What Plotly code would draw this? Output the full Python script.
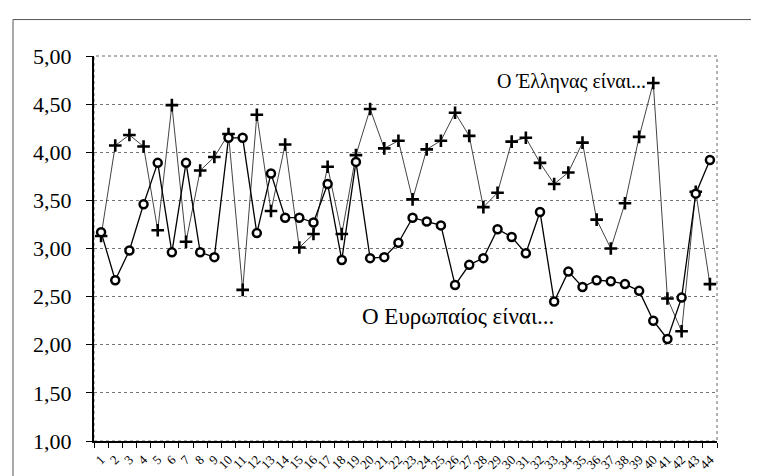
import plotly.graph_objects as go

categories = [str(i) for i in range(1, 45)]
greek = [3.13, 4.07, 4.18, 4.06, 3.19, 4.49, 3.07, 3.81, 3.95, 4.19,
         2.57, 4.39, 3.39, 4.08, 3.01, 3.15, 3.85, 3.15, 3.97, 4.45,
         4.04, 4.12, 3.51, 4.03, 4.12, 4.41, 4.17, 3.43, 3.58, 4.11,
         4.15, 3.89, 3.67, 3.79, 4.10, 3.30, 3.00, 3.47, 4.16, 4.72,
         2.48, 2.14, 3.59, 2.63]
europe = [3.17, 2.67, 2.98, 3.46, 3.89, 2.96, 3.89, 2.96, 2.91, 4.15,
          4.15, 3.16, 3.78, 3.32, 3.32, 3.27, 3.67, 2.88, 3.90, 2.90,
          2.91, 3.06, 3.32, 3.28, 3.24, 2.62, 2.83, 2.90, 3.20, 3.12,
          2.95, 3.38, 2.45, 2.76, 2.60, 2.67, 2.66, 2.63, 2.56, 2.25,
          2.06, 2.49, 3.57, 3.92]
y_ticks = [1.0, 1.5, 2.0, 2.5, 3.0, 3.5, 4.0, 4.5, 5.0]
label_greek = "Ο Έλληνας είναι..."
label_europe = "Ο Ευρωπαίος είναι..."

SERIF = "Liberation Serif, Times New Roman, DejaVu Serif, serif"

W, H = 759, 476
ML, MR, MT, MB = 86, 50, 48, 37
PW, PH = W - ML - MR, H - MT - MB

def px_x(p):
    return (p - ML) / PW

def px_y(p):
    return (H - MB - p) / PH

fig = go.Figure()
fig.add_trace(go.Scatter(
    x=categories, y=greek, mode="lines+markers",
    line=dict(color="#444444", width=1),
    marker=dict(symbol="cross-thin", size=9, line=dict(color="black", width=2.6)),
    showlegend=False, cliponaxis=False))
fig.add_trace(go.Scatter(
    x=categories, y=europe, mode="lines+markers",
    line=dict(color="black", width=1.3),
    marker=dict(symbol="circle", size=8, color="white", line=dict(color="black", width=2.5)),
    showlegend=False, cliponaxis=False))

fig.add_annotation(text=label_greek, xref="paper", yref="y", x=px_x(640), y=4.74,
                   xanchor="right", yanchor="middle", showarrow=False,
                   font=dict(family=SERIF, size=20, color="black"))
fig.add_annotation(text=label_europe, xref="paper", yref="y", x=px_x(352), y=2.29,
                   xanchor="left", yanchor="middle", showarrow=False,
                   font=dict(family=SERIF, size=23, color="black"))

fig.add_shape(type="rect", xref="paper", yref="paper", x0=0, x1=1, y0=0, y1=1,
              line=dict(color="#666666", width=1, dash="dot"), layer="below")
fig.add_shape(type="rect", xref="paper", yref="paper",
              x0=px_x(5), x1=px_x(757), y0=px_y(480), y1=px_y(11),
              line=dict(color="#555555", width=1))

fig.update_layout(
    width=W, height=H,
    margin=dict(l=ML, r=MR, t=MT, b=MB),
    paper_bgcolor="white", plot_bgcolor="white",
    separators=",.",
    font=dict(family=SERIF, color="black"),
    xaxis=dict(type="category", tickson="boundaries", ticks="outside", ticklen=5,
               tickcolor="black", tickwidth=1, showgrid=False,
               tickmode="array", tickvals=categories, ticktext=categories,
               showline=True, linecolor="black", linewidth=2,
               tickangle=-45, tickfont=dict(size=13, family=SERIF),
               ticklabelstandoff=4,
               range=[-0.5, 43.5], zeroline=False),
    yaxis=dict(range=[1, 5], tickvals=y_ticks, tickformat=".2f",
               ticks="outside", ticklen=6, tickcolor="black",
               showline=True, linecolor="black", linewidth=2,
               showgrid=True, gridcolor="#777777", gridwidth=1, griddash="dot",
               ticklabelstandoff=10,
               tickfont=dict(size=22, family=SERIF), zeroline=False),
)

fig.write_html("out.html")
